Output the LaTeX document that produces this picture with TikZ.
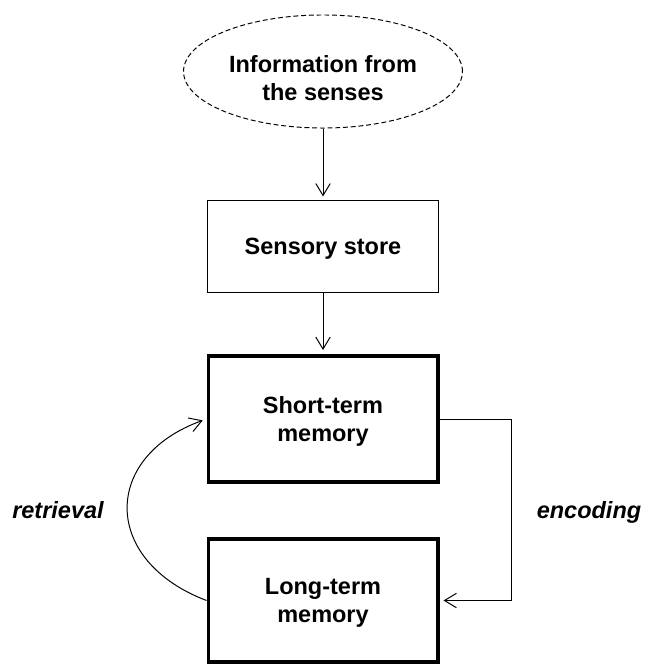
\documentclass[tikz,border=0pt]{standalone}
\usepackage{fontspec}
\setmainfont{Liberation Sans}
\usetikzlibrary{shapes.geometric}
\usetikzlibrary{arrows.meta}

\begin{document}
\begin{tikzpicture}[x=0.025cm, y=-0.025cm,
        font=\bfseries\fontsize{16.7}{20}\selectfont,
        >={Straight Barb[length=3mm,width=3.6mm]}]
                \def \thin {0.7pt}
                \def \thick {2.8pt}
                \def \gap {1mm}
                \useasboundingbox (0,0) rectangle (645,664);
                % the stores
                \node[draw, ellipse, line width=\thin, dash pattern=on 3.5pt off 2pt, minimum width=6.625cm, minimum height=2.825cm, align=center] (senses) at (323,71.5) {\rule{0pt}{21pt}Information from\\the senses};
                \node[draw, line width=\thin, minimum width=5.775cm, minimum height=2.275cm, text depth=0pt] (sensory) at (323,246.5) {Sensory store};
                \node[draw, line width=\thick, minimum width=5.725cm, minimum height=3.15cm, align=center, text depth=0pt] (stm) at (323,419) {Short-term\\memory};
                \node[draw, line width=\thick, minimum width=5.725cm, minimum height=3.075cm, align=center, text depth=0pt] (ltm) at (323,600.5) {Long-term\\memory};
                % the flow
                \draw[->, line width=\thin, shorten >=\gap] (senses) -- (sensory);
                \draw[->, line width=\thin, shorten >=\gap] (sensory) -- (stm);
                \draw[->, line width=\thin, shorten >=\gap] (stm.east) -- ++(72,0) |- (ltm.east);
                \draw[->, line width=\thin, shorten >=\gap] (ltm.west) .. controls +(-105,-40) and +(-105,38) .. (stm.west);
                \node[anchor=base, font=\bfseries\itshape\fontsize{16.7}{20}\selectfont] (encoding) at (589,518) {encoding};
                \node[anchor=base, font=\bfseries\itshape\fontsize{16.7}{20}\selectfont] (retrieval) at (58,518) {retrieval};
            \end{tikzpicture}
\end{document}
